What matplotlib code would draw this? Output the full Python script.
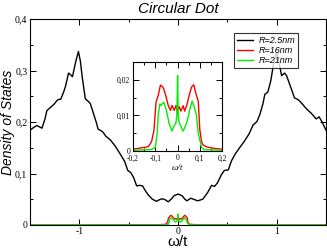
import numpy as np
import matplotlib
matplotlib.use("Agg")
import matplotlib.pyplot as plt
from matplotlib.ticker import MultipleLocator, FuncFormatter

# R=2.5nm
w_small = [-1.50, -1.46, -1.43, -1.40, -1.38, -1.35, -1.33, -1.29, -1.26, -1.23, -1.21, -1.19,
           -1.16, -1.14, -1.11, -1.09, -1.07, -1.04, -1.01, -0.99, -0.97, -0.94, -0.91, -0.89,
           -0.86, -0.83, -0.81, -0.78, -0.76, -0.73, -0.69, -0.64, -0.59, -0.54, -0.51, -0.48,
           -0.45, -0.42, -0.39, -0.36, -0.33, -0.30, -0.26, -0.22, -0.19, -0.16, -0.13, -0.10,
           -0.07, -0.04, 0.00, 0.04, 0.07, 0.09, 0.13, 0.17, 0.20, 0.25, 0.30, 0.34, 0.37, 0.40,
           0.44, 0.47, 0.51, 0.54, 0.58, 0.62, 0.67, 0.72, 0.76, 0.80, 0.83, 0.86, 0.88, 0.91,
           0.94, 0.97, 1.00, 1.02, 1.05, 1.08, 1.10, 1.13, 1.16, 1.18, 1.22, 1.26, 1.30, 1.35,
           1.40, 1.43, 1.46, 1.50]
dos_small = [0.184, 0.190, 0.193, 0.190, 0.188, 0.205, 0.222, 0.229, 0.234, 0.241, 0.244, 0.244,
             0.258, 0.270, 0.295, 0.292, 0.288, 0.315, 0.337, 0.318, 0.285, 0.245, 0.240, 0.236,
             0.218, 0.200, 0.186, 0.183, 0.180, 0.172, 0.166, 0.154, 0.139, 0.123, 0.106, 0.102,
             0.092, 0.076, 0.077, 0.076, 0.066, 0.058, 0.050, 0.046, 0.049, 0.051, 0.049, 0.045,
             0.050, 0.057, 0.060, 0.057, 0.050, 0.047, 0.052, 0.049, 0.047, 0.050, 0.063, 0.077,
             0.075, 0.082, 0.098, 0.106, 0.107, 0.124, 0.138, 0.149, 0.162, 0.177, 0.194, 0.201,
             0.215, 0.235, 0.254, 0.258, 0.280, 0.315, 0.335, 0.318, 0.290, 0.295, 0.290, 0.274,
             0.258, 0.247, 0.243, 0.235, 0.226, 0.217, 0.206, 0.210, 0.200, 0.184]

# R=16nm
w_mid = [-1.50, -0.20, -0.17, -0.132, -0.117, -0.106, -0.097, -0.087, -0.077, -0.065, -0.053,
         -0.042, -0.032, -0.025, -0.015, -0.007, 0.0, 0.007, 0.015, 0.025, 0.032, 0.042, 0.053,
         0.063, 0.073, 0.083, 0.093, 0.100, 0.108, 0.115, 0.132, 0.17, 0.20, 1.50]
dos_mid = [0.0, 0.0005, 0.0008, 0.0012, 0.0026, 0.0058, 0.0137, 0.0156, 0.0185, 0.0179, 0.0156,
           0.0128, 0.0114, 0.0128, 0.0114, 0.0128, 0.0105, 0.0125, 0.0112, 0.0127, 0.0112, 0.0130,
           0.0158, 0.0180, 0.0186, 0.0160, 0.0140, 0.0060, 0.0026, 0.0017, 0.0011, 0.0007,
           0.0005, 0.0]

# R=21nm
w_big = [-1.50, -0.20, -0.12, -0.10, -0.092, -0.087, -0.080, -0.075, -0.062, -0.050, -0.038,
         -0.025, -0.015, -0.008, -0.003, 0.0, 0.003, 0.008, 0.015, 0.025, 0.040, 0.055, 0.065,
         0.073, 0.085, 0.093, 0.108, 0.12, 0.20, 1.50]
dos_big = [0.0, 0.0002, 0.0004, 0.0010, 0.0049, 0.0100, 0.0132, 0.0128, 0.0137, 0.0114, 0.0077,
           0.0056, 0.0072, 0.0077, 0.0100, 0.0212, 0.0100, 0.0077, 0.0070, 0.0056, 0.0077,
           0.0116, 0.0140, 0.0128, 0.0100, 0.0050, 0.0010, 0.0004, 0.0002, 0.0]

labels = ["R=2.5nm", "R=16nm", "R=21nm"]
colors = ["black", "#ff0000", "#00ee00"]

serif = "Liberation Serif"
sans = "Liberation Sans"


def comma(v, pos):
    s = ("%.3f" % v).rstrip("0").rstrip(".")
    if s in ("-0", ""):
        s = "0"
    return s.replace(".", ",")


def style_ax(ax, size):
    ax.tick_params(which="both", direction="in", top=True, right=True, labelsize=size, pad=2)
    ax.tick_params(which="major", length=4, width=0.7)
    ax.tick_params(which="minor", length=2, width=0.7)
    ax.xaxis.set_major_formatter(FuncFormatter(comma))
    ax.yaxis.set_major_formatter(FuncFormatter(comma))
    for lab in ax.get_xticklabels() + ax.get_yticklabels():
        lab.set_family(serif)
    for sp in ax.spines.values():
        sp.set_linewidth(0.8)


fig = plt.figure(figsize=(3.27, 2.5), dpi=100)
ax = fig.add_axes([0.092, 0.1, 0.905, 0.824])
for (x, y), lab, c in zip([(w_small, dos_small), (w_mid, dos_mid), (w_big, dos_big)], labels, colors):
    ax.plot(x, y, color=c, lw=1.0, label=lab)
ax.set_xlim(-1.5, 1.5)
ax.set_ylim(0, 0.4)
ax.xaxis.set_major_locator(MultipleLocator(1))
ax.xaxis.set_minor_locator(MultipleLocator(0.5))
ax.yaxis.set_major_locator(MultipleLocator(0.1))
ax.yaxis.set_minor_locator(MultipleLocator(0.05))
style_ax(ax, 7)
ax.tick_params(axis="x", pad=1.5)
ax.set_title("Circular Dot", fontsize=11, style="italic", family=sans, pad=4)
ax.set_ylabel("Density of States", fontsize=10, style="italic", family=sans)
ax.yaxis.set_label_coords(-0.05, 0.5)
ax.set_xlabel("\u03c9/t", fontsize=11, family=sans, labelpad=-1)

leg = ax.legend(loc="upper right", bbox_to_anchor=(0.905, 0.932), fontsize=6.5, frameon=True,
                fancybox=False, edgecolor="black", handlelength=1.8, borderpad=0.3,
                labelspacing=0.15, handletextpad=0.6, borderaxespad=0)
leg.get_frame().set_linewidth(0.8)
for t in leg.get_texts():
    t.set_style("italic")
    t.set_family(sans)

ins = fig.add_axes([0.407, 0.396, 0.272, 0.356])
ins.plot(w_mid, dos_mid, color=colors[1], lw=1.0)
ins.plot(w_big, dos_big, color=colors[2], lw=1.0)
ins.set_xlim(-0.2, 0.2)
ins.set_ylim(0, 0.025)
ins.xaxis.set_major_locator(MultipleLocator(0.1))
ins.xaxis.set_minor_locator(MultipleLocator(0.05))
ins.yaxis.set_major_locator(MultipleLocator(0.01))
ins.yaxis.set_minor_locator(MultipleLocator(0.005))
style_ax(ins, 5.5)
ins.tick_params(axis="x", pad=2.5)
ins.set_xlabel("\u03c9/t", fontsize=6.5, family=serif, style="italic", labelpad=1)

fig.savefig("out.png", dpi=100)
